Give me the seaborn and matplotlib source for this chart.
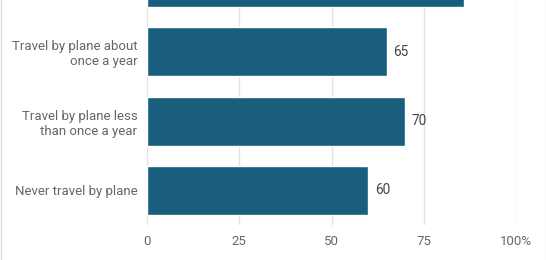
import matplotlib
matplotlib.use("Agg")
import matplotlib.pyplot as plt
import seaborn as sns
import pandas as pd
from matplotlib.lines import Line2D

categories = [
    "",
    "Travel by plane about\nonce a year",
    "Travel by plane less\nthan once a year",
    "Never travel by plane",
]
values = [86, 65, 70, 60]
value_labels = ["", "65", "70", "60"]
x_ticks = [0, 25, 50, 75, 100]
x_tick_labels = ["0", "25", "50", "75", "100%"]

sns.set_theme(style="white")
plt.rcParams["font.family"] = ["Roboto", "DejaVu Sans"]

df = pd.DataFrame({"category": categories, "value": values})

fig = plt.figure(figsize=(5.46, 2.60), dpi=100)
ax = fig.add_axes([147 / 546, 35 / 260, 369 / 546, 277 / 260])

sns.barplot(data=df, x="value", y="category", color="#195e7d", width=0.705,
            saturation=1, ax=ax, zorder=3)

ax.set_xlim(0, 100)
ax.set_ylim(3.5, -0.5)
ax.set_xticks(x_ticks)
ax.set_xticklabels(x_tick_labels)
ax.grid(axis="x", color="#e2e2e2", linewidth=1, zorder=0)
ax.set_axisbelow(True)
for s in ax.spines.values():
    s.set_visible(False)
ax.set_xlabel("")
ax.set_ylabel("")
ax.tick_params(axis="both", length=0, labelsize=9.5, colors="#666666")
ax.tick_params(axis="y", pad=7)
ax.tick_params(axis="x", pad=7)
for lbl in ax.get_yticklabels():
    lbl.set_horizontalalignment("right")
    lbl.set_multialignment("right")

for i, (v, t) in enumerate(zip(values, value_labels)):
    if t:
        ax.annotate(t, xy=(v, i), xytext=(4.5, 0), textcoords="offset points",
                    va="center", ha="left", fontsize=9.8, color="#444444")

fig.add_artist(Line2D([0.5 / 546, 0.5 / 546], [0, 1], transform=fig.transFigure,
                      color="#dddddd", linewidth=1))
fig.add_artist(Line2D([545.5 / 546, 545.5 / 546], [0, 1], transform=fig.transFigure,
                      color="#dddddd", linewidth=1))

fig.savefig("out.png", dpi=100)
